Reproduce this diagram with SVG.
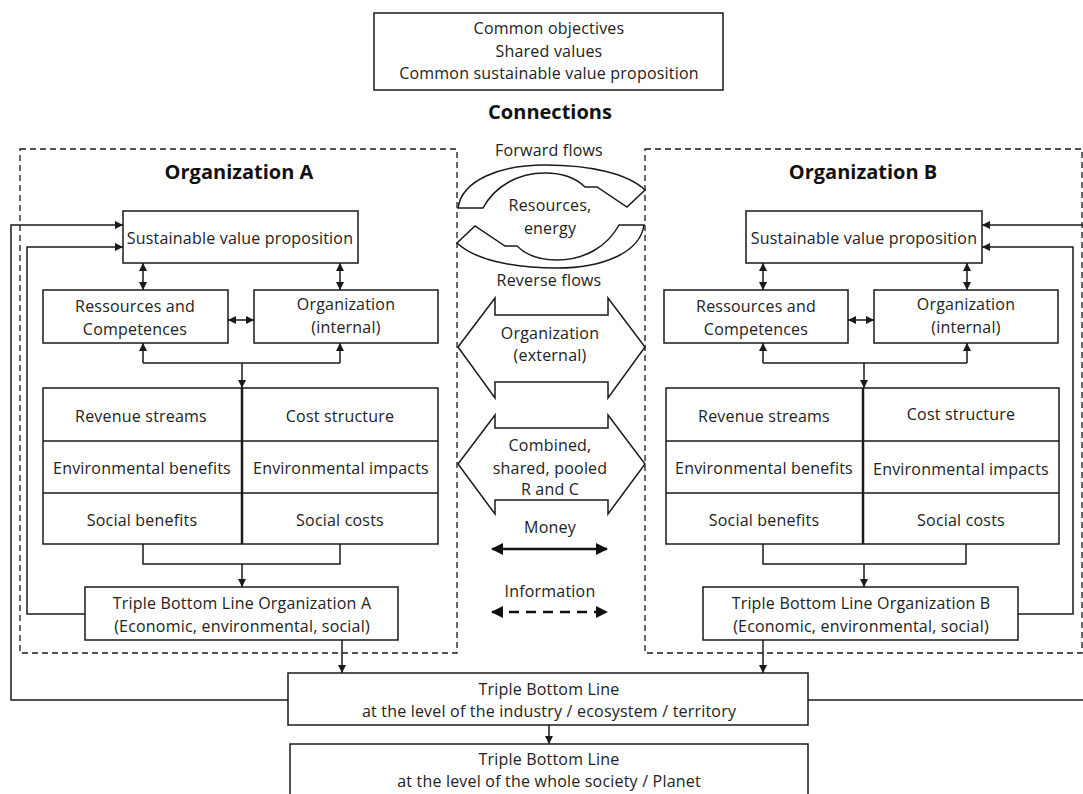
<svg xmlns="http://www.w3.org/2000/svg" xmlns:xlink="http://www.w3.org/1999/xlink" width="1083" height="794" viewBox="0 0 1083 794">
<style>
  text { font-family: "Open Sans", "Liberation Sans", sans-serif; font-size: 16px; fill: #222; text-anchor: middle; letter-spacing: 0.2px; }
  .h { font-weight: bold; font-size: 20px; fill: #111; letter-spacing: 0; }
  .box { fill: #fff; stroke: #1a1a1a; stroke-width: 1.5; }
  .dash { fill: none; stroke: #1a1a1a; stroke-width: 1.3; stroke-dasharray: 6 4; }
  .ln { fill: none; stroke: #1a1a1a; stroke-width: 1.5; }
  .div { fill: none; stroke: #1a1a1a; stroke-width: 2.5; }
  .shape { fill: #fff; stroke: #1a1a1a; stroke-width: 1.5; stroke-linejoin: miter; }
  .arr { marker-end: url(#ah); }
  .darr { marker-start: url(#ah); marker-end: url(#ah); }
  .big { fill: none; stroke: #111; stroke-width: 2.5; marker-start: url(#bh); marker-end: url(#bh); }
</style>
<defs>
  <marker id="ah" viewBox="0 0 8 8" refX="8" refY="4" markerWidth="8" markerHeight="8" markerUnits="userSpaceOnUse" orient="auto-start-reverse">
    <path d="M0,0 L8,4 L0,8 z" fill="#1a1a1a"/>
  </marker>
  <marker id="bh" viewBox="0 0 12 12" refX="11" refY="6" markerWidth="12" markerHeight="12" markerUnits="userSpaceOnUse" orient="auto-start-reverse">
    <path d="M0,0 L12,6 L0,12 z" fill="#111"/>
  </marker>
  <path id="circ" d="M458,208 L483,208 C495,186 518,173 545,173 C565,173 578,180 585,187 L597,187 L627,207 L645,190 C628,174 592,165 545,165 C500,165 462,180 458,208 Z"/>
</defs>
<rect width="1083" height="794" fill="#fff"/>

<g id="common">
  <rect class="box" x="374" y="13" width="349" height="77"/>
  <text x="549" y="34">Common objectives</text>
  <text x="549" y="57">Shared values</text>
  <text x="549" y="79">Common sustainable value proposition</text>
</g>
<text class="h" x="550" y="119">Connections</text>

<g id="orgA-frame">
  <rect class="dash" x="20" y="149" width="437" height="504"/>
  <text class="h" x="239" y="179">Organization A</text>
</g>
<g id="orgB-frame">
  <rect class="dash" x="645" y="149" width="437" height="504"/>
  <text class="h" x="863" y="179">Organization B</text>
</g>

<g id="connectors">
  <!-- Org A -->
  <line class="ln darr" x1="143" y1="263" x2="143" y2="290"/>
  <line class="ln darr" x1="340" y1="263" x2="340" y2="290"/>
  <line class="ln darr" x1="228" y1="320" x2="254" y2="320"/>
  <path class="ln" d="M143,363 L340,363"/>
  <line class="ln arr" x1="143" y1="363" x2="143" y2="343"/>
  <line class="ln arr" x1="340" y1="363" x2="340" y2="343"/>
  <line class="ln arr" x1="242" y1="363" x2="242" y2="388"/>
  <path class="ln" d="M143,544 L143,564 L340,564 L340,544"/>
  <line class="ln arr" x1="242" y1="564" x2="242" y2="587"/>
  <path class="ln arr" d="M85,614 L27,614 L27,247 L123,247"/>
  <path class="ln arr" d="M288,700 L11,700 L11,225 L123,225"/>
  <line class="ln arr" x1="342" y1="640" x2="342" y2="673"/>
  <!-- Org B -->
  <line class="ln darr" x1="763" y1="263" x2="763" y2="290"/>
  <line class="ln darr" x1="967" y1="263" x2="967" y2="290"/>
  <line class="ln darr" x1="848" y1="320" x2="874" y2="320"/>
  <path class="ln" d="M763,363 L967,363"/>
  <line class="ln arr" x1="763" y1="363" x2="763" y2="343"/>
  <line class="ln arr" x1="967" y1="363" x2="967" y2="343"/>
  <line class="ln arr" x1="864" y1="363" x2="864" y2="388"/>
  <path class="ln" d="M763,544 L763,564 L966,564 L966,544"/>
  <line class="ln arr" x1="864" y1="564" x2="864" y2="587"/>
  <path class="ln arr" d="M1018,614 L1073,614 L1073,247 L982,247"/>
  <path class="ln arr" d="M1083,225 L982,225"/>
  <path class="ln" d="M808,700 L1083,700"/>
  <line class="ln arr" x1="763" y1="640" x2="763" y2="673"/>
  <!-- bottom -->
  <line class="ln arr" x1="549" y1="725" x2="549" y2="744"/>
</g>

<!-- Org A nodes -->
<g id="svpA">
  <rect class="box" x="123" y="211" width="235" height="52"/>
  <text x="240" y="244">Sustainable value proposition</text>
</g>
<g id="resA">
  <rect class="box" x="43" y="290" width="185" height="53"/>
  <text x="135" y="312">Ressources and</text>
  <text x="135" y="335">Competences</text>
</g>
<g id="orgIntA">
  <rect class="box" x="254" y="290" width="184" height="53"/>
  <text x="346" y="310">Organization</text>
  <text x="346" y="333">(internal)</text>
</g>
<g id="tableA">
  <rect class="box" x="43" y="388" width="395" height="156"/>
  <line class="ln" x1="43" y1="441" x2="438" y2="441"/>
  <line class="ln" x1="43" y1="493" x2="438" y2="493"/>
  <line class="div" x1="242" y1="388" x2="242" y2="544"/>
  <text x="141" y="422">Revenue streams</text>
  <text x="340" y="422">Cost structure</text>
  <text x="142" y="474">Environmental benefits</text>
  <text x="341" y="474">Environmental impacts</text>
  <text x="142" y="526">Social benefits</text>
  <text x="340" y="526">Social costs</text>
</g>
<g id="tblA">
  <rect class="box" x="85" y="587" width="313" height="53"/>
  <text x="242" y="609">Triple Bottom Line Organization A</text>
  <text x="242" y="632">(Economic, environmental, social)</text>
</g>

<!-- Org B nodes -->
<g id="svpB">
  <rect class="box" x="746" y="211" width="236" height="52"/>
  <text x="864" y="244">Sustainable value proposition</text>
</g>
<g id="resB">
  <rect class="box" x="664" y="290" width="184" height="53"/>
  <text x="756" y="312">Ressources and</text>
  <text x="756" y="335">Competences</text>
</g>
<g id="orgIntB">
  <rect class="box" x="874" y="290" width="184" height="53"/>
  <text x="966" y="310">Organization</text>
  <text x="966" y="333">(internal)</text>
</g>
<g id="tableB">
  <rect class="box" x="666" y="388" width="393" height="156"/>
  <line class="ln" x1="666" y1="441" x2="1059" y2="441"/>
  <line class="ln" x1="666" y1="493" x2="1059" y2="493"/>
  <line class="div" x1="863" y1="388" x2="863" y2="544"/>
  <text x="764" y="422">Revenue streams</text>
  <text x="961" y="420">Cost structure</text>
  <text x="764" y="474">Environmental benefits</text>
  <text x="961" y="475">Environmental impacts</text>
  <text x="764" y="526">Social benefits</text>
  <text x="961" y="526">Social costs</text>
</g>
<g id="tblB">
  <rect class="box" x="703" y="587" width="315" height="53"/>
  <text x="861" y="609">Triple Bottom Line Organization B</text>
  <text x="861" y="632">(Economic, environmental, social)</text>
</g>

<!-- Connections (center) -->
<g id="flows">
  <text x="549" y="156">Forward flows</text>
  <use xlink:href="#circ" class="shape"/>
  <use xlink:href="#circ" class="shape" transform="rotate(180 551 216.5)"/>
  <text x="550" y="211">Resources,</text>
  <text x="550" y="234">energy</text>
  <text x="549" y="286">Reverse flows</text>
</g>
<g id="orgExternal">
  <polygon class="shape" points="458,347 495,298 495,315 608,315 608,298 645,347 608,398 608,382 495,382 495,398"/>
  <text x="550" y="339">Organization</text>
  <text x="550" y="361">(external)</text>
</g>
<g id="combined">
  <polygon class="shape" points="458,464 495,415 495,428 608,428 608,415 645,464 608,514 608,500 495,500 495,514"/>
  <text x="550" y="451">Combined,</text>
  <text x="550" y="474">shared, pooled</text>
  <text x="550" y="495">R and C</text>
</g>
<g id="money">
  <text x="550" y="533">Money</text>
  <line class="big" x1="492" y1="549" x2="607" y2="549"/>
</g>
<g id="information">
  <text x="550" y="597">Information</text>
  <line class="big" x1="492" y1="612" x2="607" y2="612" stroke-dasharray="10 7"/>
</g>

<!-- bottom nodes -->
<g id="tblIndustry">
  <rect class="box" x="288" y="673" width="520" height="52"/>
  <text x="549" y="695">Triple Bottom Line</text>
  <text x="549" y="717">at the level of the industry / ecosystem / territory</text>
</g>
<g id="tblPlanet">
  <rect class="box" x="290" y="744" width="518" height="60"/>
  <text x="549" y="765">Triple Bottom Line</text>
  <text x="549" y="787">at the level of the whole society / Planet</text>
</g>
</svg>
